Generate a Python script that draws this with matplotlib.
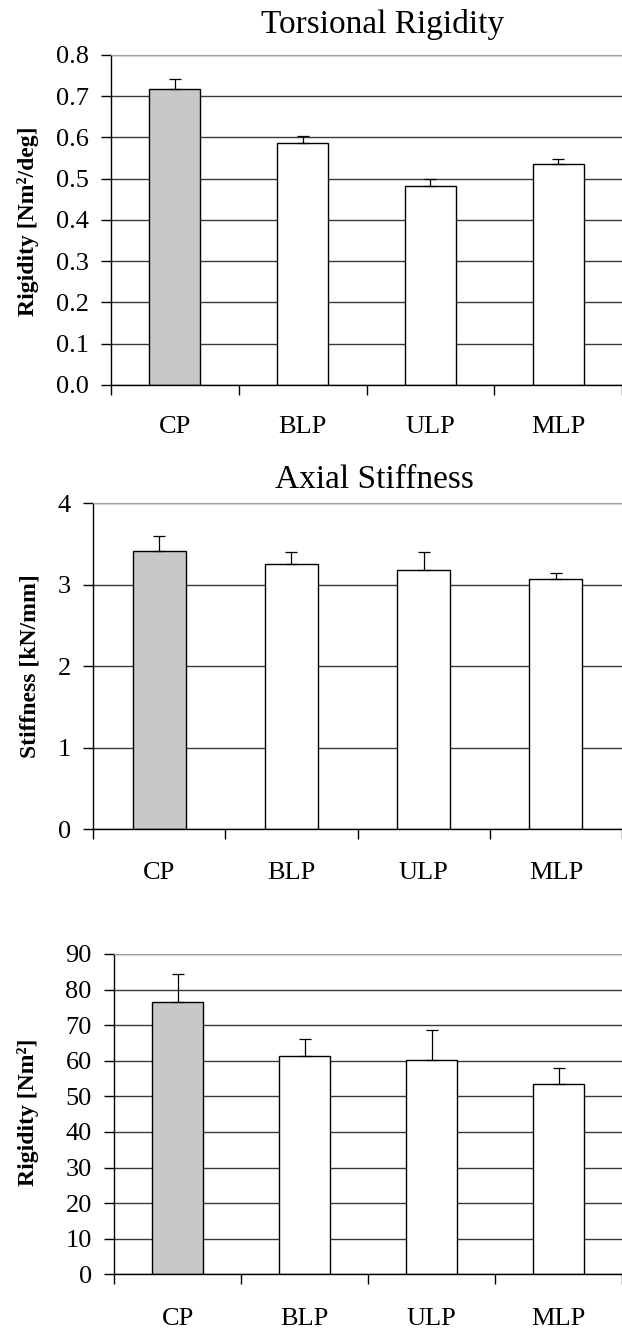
import matplotlib
matplotlib.use("Agg")
import matplotlib.pyplot as plt

plt.rcParams["font.family"] = ["Liberation Serif", "DejaVu Serif"]

groups = ["CP", "BLP", "ULP", "MLP"]
bar_colors = ["#c8c8c8", "white", "white", "white"]

torsion_vals = [0.717, 0.586, 0.482, 0.536]
torsion_err = [0.024, 0.018, 0.017, 0.011]
torsion_ticks = [0.0, 0.1, 0.2, 0.3, 0.4, 0.5, 0.6, 0.7, 0.8]

axial_vals = [3.42, 3.25, 3.18, 3.075]
axial_err = [0.18, 0.155, 0.225, 0.07]
axial_ticks = [0, 1, 2, 3, 4]

bending_vals = [76.4, 61.2, 60.2, 53.4]
bending_err = [8.0, 4.9, 8.4, 4.6]
bending_ticks = [0, 10, 20, 30, 40, 50, 60, 70, 80, 90]


def draw_panel(ax, vals, errs, yticks, fmt, xright, label_pad):
  x = list(range(len(groups)))
  ax.set_axisbelow(True)
  ax.bar(x, vals, width=0.4, color=bar_colors, edgecolor="black", linewidth=1.0, zorder=2)
  ax.errorbar(x, vals, yerr=[[0] * len(errs), errs], fmt="none", ecolor="black",
              elinewidth=0.9, capsize=4, capthick=0.9, zorder=3)
  ax.set_ylim(yticks[0], yticks[-1])
  ax.set_xlim(-0.5, xright)
  ax.set_yticks(yticks)
  ax.set_yticklabels([fmt.format(t) for t in yticks])
  ax.yaxis.grid(True, color="#3a3a3a", linewidth=1.0)
  ax.set_xticks([-0.5, 0.5, 1.5, 2.5, 3.5])
  ax.set_xticklabels([])
  ax.set_xticks(x, minor=True)
  ax.set_xticklabels(groups, minor=True)
  ax.tick_params(axis="x", which="major", direction="out", length=7, width=1)
  ax.tick_params(axis="x", which="minor", length=0, pad=label_pad, labelsize=19)
  ax.tick_params(axis="y", direction="out", length=7, width=1, pad=9, labelsize=19)
  ax.spines["right"].set_visible(False)
  ax.spines["top"].set_color("#a0a0a0")
  ax.spines["left"].set_linewidth(1.0)
  ax.spines["bottom"].set_linewidth(1.0)


fig = plt.figure(figsize=(6.22, 13.3), dpi=100)

ax1 = fig.add_axes([0.17846, 0.71053, 0.82154, 0.24812])
draw_panel(ax1, torsion_vals, torsion_err, torsion_ticks, "{:.1f}", 3.42, 22)

ax2 = fig.add_axes([0.14952, 0.37669, 0.85048, 0.24489])
draw_panel(ax2, axial_vals, axial_err, axial_ticks, "{:d}", 3.477, 24)

ax3 = fig.add_axes([0.18328, 0.04188, 0.81672, 0.24083])
draw_panel(ax3, bending_vals, bending_err, bending_ticks, "{:d}", 3.423, 24)

fig.text(383 / 622, 1 - 25 / 1330, "Torsional Rigidity", ha="center", va="center", fontsize=24)
fig.text(374 / 622, 1 - 480 / 1330, "Axial Stiffness", ha="center", va="center", fontsize=24)

fig.text(28 / 622, 1 - 221 / 1330, "Rigidity [Nm²/deg]", rotation=90, ha="center", va="center",
         fontsize=17, fontweight="bold")
fig.text(30 / 622, 1 - 666 / 1330, "Stiffness [kN/mm]", rotation=90, ha="center", va="center",
         fontsize=17, fontweight="bold")
fig.text(28 / 622, 1 - 1112 / 1330, "Rigidity [Nm²]", rotation=90, ha="center", va="center",
         fontsize=17, fontweight="bold")

fig.savefig("out.png", dpi=100)
